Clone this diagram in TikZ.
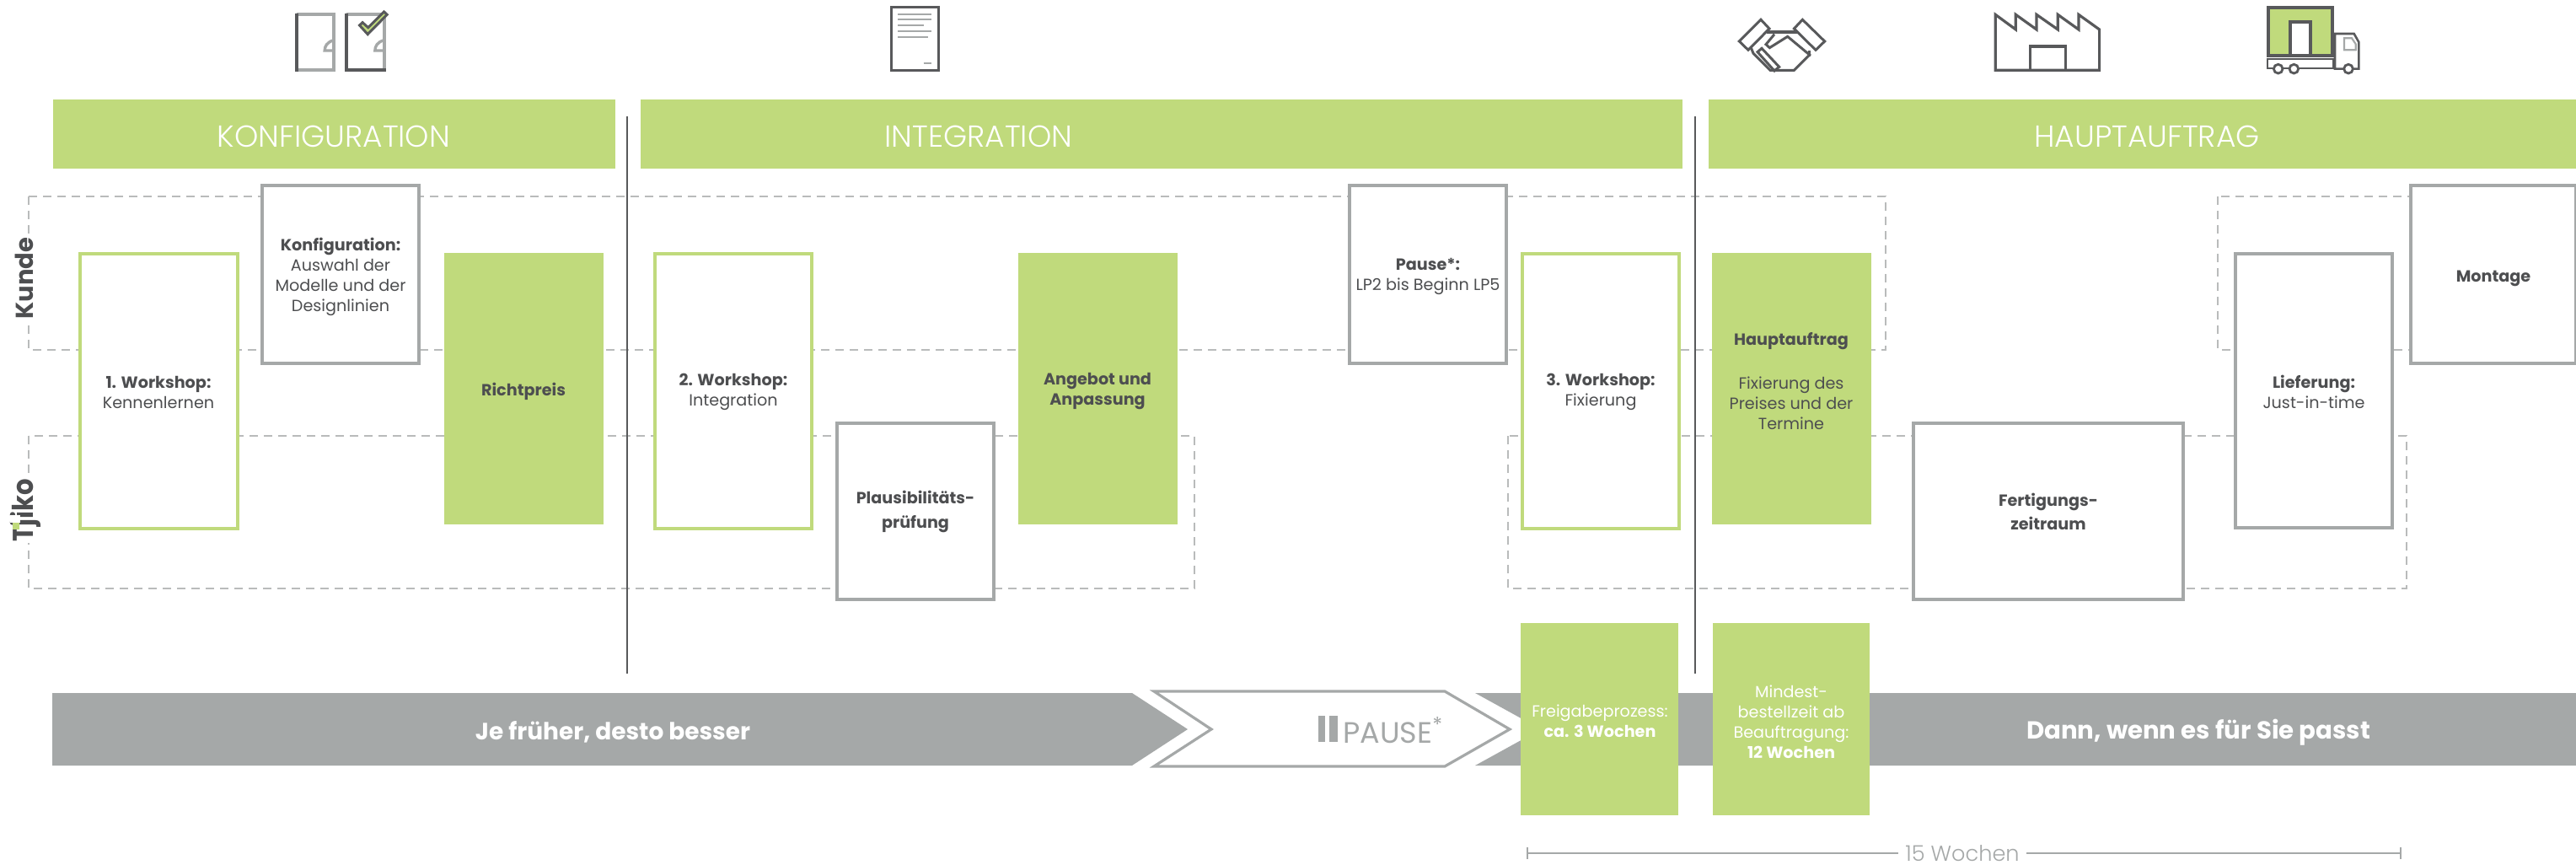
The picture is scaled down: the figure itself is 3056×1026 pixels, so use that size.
\documentclass[tikz,border=0pt]{standalone}
\usepackage{fontspec}
\setmainfont{Poppins}
\newfontfamily\heads{Poppins Light}
\definecolor{tgreen}{HTML}{C0DA7C}
\definecolor{tgray}{HTML}{A5A8A8}
\definecolor{tdark}{HTML}{58595B}
\definecolor{ttext}{HTML}{4D4E50}
\definecolor{tdash}{HTML}{B9BBBB}
\tikzset{
  x=0.5pt,y=-0.5pt,
  headtxt/.style={text=white,font=\heads\fontsize{18}{18}\selectfont,anchor=center},
  dashbox/.style={draw=tdash,line width=0.65pt,dash pattern=on 5pt off 3.5pt},
  gbox/.style={draw=tgreen,line width=1.7pt,fill=white},
  ybox/.style={draw=tgray,line width=1.7pt,fill=white},
  txt/.style={text=ttext,font=\fontsize{9.6}{12}\selectfont,align=center,anchor=center},
  wtxt/.style={text=white,font=\fontsize{9.6}{12}\selectfont,align=center,anchor=center},
  divider/.style={draw=tdark,line width=1.2pt},
  ic/.style={draw=tdark,line width=1.5pt,line join=miter},
  icl/.style={draw=tgray,line width=1.9pt},
  zoomA/.style={shift={(#1,0)},x=0.2551pt,y=-0.16667pt},
  zoomB/.style={x=0.16667pt,y=-0.16667pt},
  zoomC/.style={shift={(2040,0)},x=0.287pt,y=-0.16667pt},
}
\begin{document}
\begin{tikzpicture}
\useasboundingbox (0,0) rectangle (3056,1026);
% icons: doors
\begin{scope}[zoomA=0]
\draw[icl,line width=1.9pt] (689,52) -- (776,52) -- (776,250) -- (689,250);
\draw[icl,line width=1.7pt] (776,143) .. controls (760,150) and (755,165) .. (755,180) -- (776,180);
\draw[ic,line width=2pt] (689,48) -- (689,254);
\draw[icl,line width=1.9pt] (806,52) -- (893,52) -- (893,250);
\draw[icl,line width=1.7pt] (893,143) .. controls (877,150) and (872,165) .. (872,180) -- (893,180);
\draw[ic,line width=2pt] (806,48) -- (806,250) -- (897,250);
\draw[ic,fill=tgreen,line join=miter] (855,122) -- (836,90) -- (843,80) -- (856,98) -- (893,42) -- (900,52) -- cycle;
\end{scope}
% icon: document
\begin{scope}[shift={(1000,0)},zoomB]
\draw[ic,line width=1.4pt,fill=white] (172,25) rectangle (340,250);
\foreach \yy/\xx in {50/316,70/316,91/288,112/316,132/302}
  \draw[tgray,line width=1pt] (195,\yy) -- (\xx,\yy);
\draw[tgray,line width=1pt] (287,225) -- (316,225);
\end{scope}
% icon: handshake
\begin{scope}[shift={(2050,10)},zoomB]
\draw[ic] (117,40) -- (147,72) -- (72,148) -- (40,117) -- cycle;
\draw[ic] (265,40) -- (235,72) -- (312,148) -- (344,117) -- cycle;
\draw[ic,line width=2pt] (138,83) -- (245,83);
\draw[ic] (165,92) -- (135,128) -- (148,140) -- (212,100) -- (290,165) -- (235,220) -- (150,220) -- (90,160) -- (82,140);
\draw[ic] (290,150) -- (290,170);
\draw[ic] (120,142) -- (182,208) -- (165,222) -- (105,155) -- cycle;
\end{scope}
% icon: factory
\begin{scope}[zoomC]
\draw[ic,line width=1.6pt] (570,250) -- (570,52) -- (612,105) -- (612,52) -- (655,105) -- (655,52) -- (699,105) -- (699,52) -- (742,105) -- (742,52) -- (785,105) -- (785,250) -- cycle;
\draw[ic,line width=1.6pt] (642,250) -- (642,165) -- (715,165) -- (715,250);
\end{scope}
% icon: truck
\begin{scope}[shift={(2680,0)},zoomB]
\draw[ic,line width=1.3pt] (30,210) rectangle (265,243);
\draw[ic,line width=2pt,fill=tgreen] (33,27) rectangle (260,198);
\draw[ic,line width=2pt,fill=white] (111,78) rectangle (184,198);
\draw[ic,line width=1.3pt,fill=white] (270,120) -- (338,120) -- (355,150) -- (355,245) -- (270,245) -- cycle;
\draw[icl,line width=1.1pt,fill=white] (303,136) -- (330,136) -- (344,157) -- (344,178) -- (303,178) -- cycle;
\foreach \cx in {68,124,318}
  \draw[ic,line width=1.4pt,fill=white] (\cx,245) circle (16);
\end{scope}
% dashed swimlanes
\draw[dashbox] (34,233) rectangle (2237,415);
\draw[dashbox] (2631,233) rectangle (3000,415);
\draw[dashbox] (34,517) rectangle (1417,698);
\draw[dashbox] (1789,517) rectangle (2855,698);
% header bars
\fill[tgreen] (63,118) rectangle (730,200);
\fill[tgreen] (760,118) rectangle (1996,200);
\fill[tgreen] (2027,118) rectangle (3056,200);
\node[headtxt] (h1) at (396,162) {KONFIGURATION};
\node[headtxt] (h2) at (1161,162) {INTEGRATION};
\node[headtxt] (h3) at (2547,162) {HAUPTAUFTRAG};
% dividers
\draw[divider] (744,138) -- (744,799);
\draw[divider] (2011,138) -- (2011,799);
% bottom arrows
\fill[tgray] (62,822) -- (1343,822) -- (1409,865) -- (1343,908) -- (62,908) -- cycle;
\draw[draw=tgray,line width=1.6pt,fill=white] (1369,820) -- (1714,820) -- (1791,865) -- (1714,909) -- (1369,909) -- (1437,865) -- cycle;
\fill[tgray] (1750,822) -- (3056,822) -- (3056,908) -- (1750,908) -- (1828,865) -- cycle;
% boxes
\draw[gbox] (95,301) rectangle (282,627);
\draw[ybox] (311,220) rectangle (497,431);
\fill[tgreen] (527,300) rectangle (716,622);
\draw[gbox] (777,301) rectangle (963,627);
\draw[ybox] (993,502) rectangle (1179,711);
\fill[tgreen] (1208,300) rectangle (1397,622);
\draw[ybox] (1601,220) rectangle (1787,431);
\draw[gbox] (1806,301) rectangle (1992,627);
\fill[tgreen] (2031,300) rectangle (2220,622);
\draw[ybox] (2270,502) rectangle (2590,711);
\draw[ybox] (2652,301) rectangle (2838,626);
\draw[ybox] (2860,220) rectangle (3056,431);
\fill[tgreen] (1804,739) rectangle (1991,967);
\fill[tgreen] (2032,739) rectangle (2218,967);
% box text
\node[txt] (t1) at (188,465) {\textbf{1. Workshop:}\\Kennenlernen};
\node[txt] (t2) at (404,328) {\textbf{Konfiguration:}\\Auswahl der\\Modelle und der\\Designlinien};
\node[txt] (t3) at (621,464) {\textbf{Richtpreis}};
\node[txt] (t4) at (870,465) {\textbf{2. Workshop:}\\Integration};
\node[txt] (t5) at (1086,607) {\textbf{Plausibilitäts-}\\[2.5pt]\textbf{prüfung}};
\node[txt] (t6) at (1302,464) {\textbf{Angebot und}\\\textbf{Anpassung}};
\node[txt] (t7) at (1694,328) {\textbf{Pause*:}\\LP2 bis Beginn LP5};
\node[txt] (t8) at (1899,465) {\textbf{3. Workshop:}\\Fixierung};
\node[txt] (t9) at (2125,452) {\textbf{Hauptauftrag}\\[14pt]Fixierung des\\Preises und der\\Termine};
\node[txt] (t10) at (2430,607) {\textbf{Fertigungs-}\\[2pt]\textbf{zeitraum}};
\node[txt] (t11) at (2745,465) {\textbf{Lieferung:}\\Just-in-time};
\node[txt] (t12) at (2958,330) {\textbf{Montage}};
\node[wtxt] (t13) at (1898,855) {Freigabeprozess:\\\textbf{ca. 3 Wochen}};
\node[wtxt] (t14) at (2125,856) {Mindest-\\bestellzeit ab\\Beauftragung:\\\textbf{12 Wochen}};
\node[text=white,font=\bfseries\fontsize{14}{14}\selectfont] (a1) at (727,868) {Je früher, desto besser};
\node[text=white,font=\bfseries\fontsize{14.6}{14}\selectfont] (a2) at (2608,869) {Dann, wenn es für Sie passt};
% pause label
\fill[tgray] (1564,849) rectangle (1572,880);
\fill[tgray] (1577,849) rectangle (1587,880);
\node[text=tgray,font=\fontsize{17.5}{17}\selectfont,anchor=west,inner sep=0] (p) at (1593,866) {PAUSE\textsuperscript{*}};
% 15 Wochen
\coordinate (wa) at (1812,1012);
\coordinate (wb) at (2848,1012);
\node[text=tgray,font=\heads\fontsize{12.8}{14}\selectfont,fill=white,inner xsep=4pt,inner ysep=0] (w) at (2328,1012) {15 Wochen};
\draw[tgray,line width=.9pt] (wa) -- (w);
\draw[tgray,line width=.9pt] (w) -- (wb);
\draw[tgray,line width=.9pt] (1812,1005) -- (1812,1019);
\draw[tgray,line width=.9pt] (2848,1005) -- (2848,1019);
% lanes
\node[fill=white,inner sep=1pt,text=ttext,font=\bfseries\fontsize{14.5}{15}\selectfont,rotate=90] (k) at (29,330) {Kunde};
\node[fill=white,inner sep=1pt,text=ttext,font=\bfseries\fontsize{17}{15}\selectfont,rotate=90] (tj) at (30,605) {\scalebox{0.9}[1]{Tjiko}};
\fill[white] (12,611) rectangle (24,620);
\fill[tgreen] (15,620) rectangle (23,628);
\end{tikzpicture}
\end{document}
